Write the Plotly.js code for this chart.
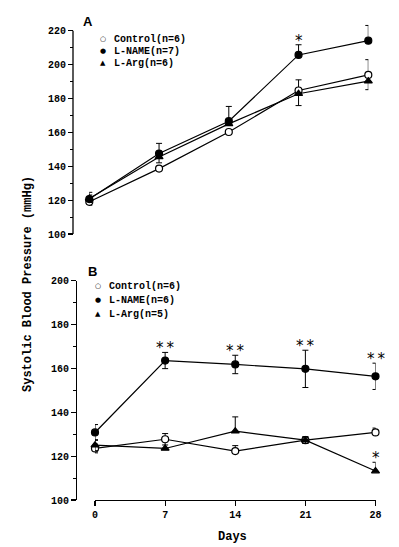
<!DOCTYPE html>
<html>
<head>
<meta charset="utf-8">
<script src="https://cdn.plot.ly/plotly-3.0.1.min.js"></script>
<style>html,body{margin:0;padding:0;background:#fff;}#chart{width:399px;height:547px;}</style>
</head>
<body>
<div id="chart"></div>
<script>
// ---- Data ----
const days = [0, 7, 14, 21, 28];
const dayTicks = ['0', '7', '14', '21', '28'];

// Panel A
const A_control = [119, 138.6, 160.2, 184.7, 193.9];
const A_control_errUp = [2, 0, 0, 6.3, 9];
const A_control_errDn = [2, 0, 0, 0, 0];
const A_lname = [120.6, 147.5, 166.6, 205.7, 214.1];
const A_lname_errUp = [4, 6, 8.7, 6, 9];
const A_lname_errDn = [2, 0, 0, 0, 0];
const A_larg = [121, 145.5, 165, 182.8, 190.2];
const A_larg_errUp = [2, 0, 0, 0, 0];
const A_larg_errDn = [2, 3.5, 0, 7, 5];
const A_lname_sig = ['', '', '', '*', ''];
const A_legend = ['Control(n=6)', 'L-NAME(n=7)', 'L-Arg(n=6)'];

// Panel B
const B_control = [123.5, 127.7, 122.3, 127.3, 130.8];
const B_control_errUp = [2, 2.6, 2.5, 1.5, 2];
const B_control_errDn = [2, 2.6, 0, 1.5, 0];
const B_lname = [130.8, 163.6, 161.8, 159.8, 156.4];
const B_lname_errUp = [3.6, 3.7, 4.2, 8.5, 6];
const B_lname_errDn = [3.6, 3.7, 4.2, 8.5, 6];
const B_larg = [125, 123.5, 131.4, 127.3, 113.2];
const B_larg_errUp = [2.5, 0, 6.5, 1.5, 4];
const B_larg_errDn = [2.5, 0, 0, 1.5, 0];
const B_lname_sig = ['', '**', '**', '**', '**'];
const B_larg_sig = ['', '', '', '', '*'];
const B_legend = ['Control(n=6)', 'L-NAME(n=6)', 'L-Arg(n=5)'];

const yTitle = 'Systolic Blood Pressure (mmHg)';
const xTitle = 'Days';

// ---- Styling ----
const W = 399, H = 547;
const FONT = 'Liberation Mono, DejaVu Sans Mono, monospace';
const px = x => x / W;
const py = y => (H - y) / H;

const styles = {
  control: {symbol: 'circle', color: '#fff', glyph: '\u25CB'},
  lname: {symbol: 'circle', color: '#000', glyph: '\u25CF'},
  larg: {symbol: 'triangle-up', color: '#000', glyph: '\u25B2'}
};

function series(x, y, up, dn, st, xa, ya) {
  return {
    x: x, y: y, type: 'scatter', mode: 'lines+markers',
    xaxis: xa, yaxis: ya, cliponaxis: false, showlegend: false, hoverinfo: 'skip',
    line: {color: '#000', width: 1.2},
    marker: {symbol: st.symbol, size: 7, color: st.color, line: {color: '#000', width: 1.2}},
    error_y: {type: 'data', symmetric: false, array: up, arrayminus: dn, color: '#000', thickness: 1, width: 3}
  };
}

const data = [
  series(days, A_control, A_control_errUp, A_control_errDn, styles.control, 'x', 'y'),
  series(days, A_larg, A_larg_errUp, A_larg_errDn, styles.larg, 'x', 'y'),
  series(days, A_lname, A_lname_errUp, A_lname_errDn, styles.lname, 'x', 'y'),
  series(days, B_control, B_control_errUp, B_control_errDn, styles.control, 'x2', 'y2'),
  series(days, B_larg, B_larg_errUp, B_larg_errDn, styles.larg, 'x2', 'y2'),
  series(days, B_lname, B_lname_errUp, B_lname_errDn, styles.lname, 'x2', 'y2')
];

const annotations = [];
function addSig(vals, errs, sig, xr, yr) {
  sig.forEach((s, i) => {
    if (!s) return;
    annotations.push({
      x: days[i], y: vals[i] + errs[i], xref: xr, yref: yr,
      text: s.split('').join('&#8201;'), showarrow: false, yanchor: 'middle', yshift: 4,
      font: {family: 'DejaVu Sans', size: 15, color: '#000'}
    });
  });
}
addSig(A_lname, A_lname_errUp, A_lname_sig, 'x', 'y');
addSig(B_lname, B_lname_errUp, B_lname_sig, 'x2', 'y2');
addSig(B_larg, B_larg_errUp, B_larg_sig, 'x2', 'y2');

function addLegend(labels, x0, y0, dy) {
  const order = [styles.control, styles.lname, styles.larg];
  labels.forEach((lab, i) => {
    annotations.push({
      xref: 'paper', yref: 'paper', x: px(x0), y: py(y0 + i * dy), xanchor: 'center', yanchor: 'middle',
      text: order[i].glyph, showarrow: false, font: {family: 'DejaVu Sans', size: 7, color: '#000'}
    });
    annotations.push({
      xref: 'paper', yref: 'paper', x: px(x0 + 9), y: py(y0 + i * dy), xanchor: 'left', yanchor: 'middle',
      text: '<b>' + lab + '</b>', showarrow: false, font: {family: FONT, size: 10, color: '#000'}
    });
  });
}
addLegend(A_legend, 103, 39, 12);
addLegend(B_legend, 98, 286, 14);

annotations.push({xref: 'paper', yref: 'paper', x: px(88), y: py(21), text: '<b>A</b>', showarrow: false,
  font: {family: 'Liberation Sans', size: 13, color: '#000'}, xanchor: 'center', yanchor: 'middle'});
annotations.push({xref: 'paper', yref: 'paper', x: px(92), y: py(271), text: '<b>B</b>', showarrow: false,
  font: {family: 'Liberation Sans', size: 13, color: '#000'}, xanchor: 'center', yanchor: 'middle'});
annotations.push({xref: 'paper', yref: 'paper', x: px(28), y: py(284), text: '<b>' + yTitle + '</b>', textangle: -90,
  showarrow: false, font: {family: FONT, size: 12, color: '#000'}, xanchor: 'center', yanchor: 'middle'});
annotations.push({xref: 'paper', yref: 'paper', x: px(232), y: py(537), text: '<b>' + xTitle + '</b>',
  showarrow: false, font: {family: FONT, size: 12, color: '#000'}, xanchor: 'center', yanchor: 'middle'});

const tickFont = {family: FONT, size: 10, color: '#000', weight: 'bold'};
const yBase = {
  showgrid: false, zeroline: false, showline: false,
  ticks: 'outside', ticklen: 5, tickwidth: 1.2, tickcolor: '#000', dtick: 20, tick0: 100,
  minor: {dtick: 10, tick0: 100, ticks: 'outside', ticklen: 3, tickwidth: 1, tickcolor: '#000'},
  tickfont: tickFont, anchor: 'free', fixedrange: true
};

// Panel A: extra headroom above 220 so the top error cap is not clipped; axis line drawn to 220 only.
const yAmax = 220, yAtop = 227;
const yAdomTop = py(30.7 - (yAtop - yAmax) * (234 - 30.7) / (yAmax - 100));

const layout = {
  width: W, height: H, margin: {l: 0, r: 0, t: 0, b: 0},
  paper_bgcolor: '#fff', plot_bgcolor: 'rgba(0,0,0,0)', showlegend: false,
  xaxis: {domain: [px(89.3), px(368.3)], range: [0, 28], visible: false, anchor: 'y', fixedrange: true},
  yaxis: Object.assign({}, yBase, {domain: [py(234), yAdomTop], range: [100, yAtop], position: px(73),
    tickvals: [100, 120, 140, 160, 180, 200, 220],
    minor: {tickvals: [110, 130, 150, 170, 190, 210], ticks: 'outside', ticklen: 3, tickwidth: 1, tickcolor: '#000'}}),
  xaxis2: {domain: [px(95), px(375.5)], range: [0, 28], anchor: 'y2', showgrid: false, zeroline: false,
    showline: true, linecolor: '#000', linewidth: 1.3, ticks: 'outside', ticklen: 5, tickwidth: 1.2, tickcolor: '#000',
    tickvals: days, ticktext: dayTicks, tickfont: tickFont, fixedrange: true},
  yaxis2: Object.assign({}, yBase, {domain: [py(500), py(280.7)], range: [100, 200], position: px(76), showline: true,
    linecolor: '#000', linewidth: 1.3}),
  shapes: [
    {type: 'line', xref: 'paper', yref: 'y', x0: px(73), x1: px(73), y0: 100, y1: yAmax,
      line: {color: '#000', width: 1.3}}
  ],
  annotations: annotations
};

Plotly.newPlot('chart', data, layout, {staticPlot: true, displayModeBar: false});
</script>
</body>
</html>
